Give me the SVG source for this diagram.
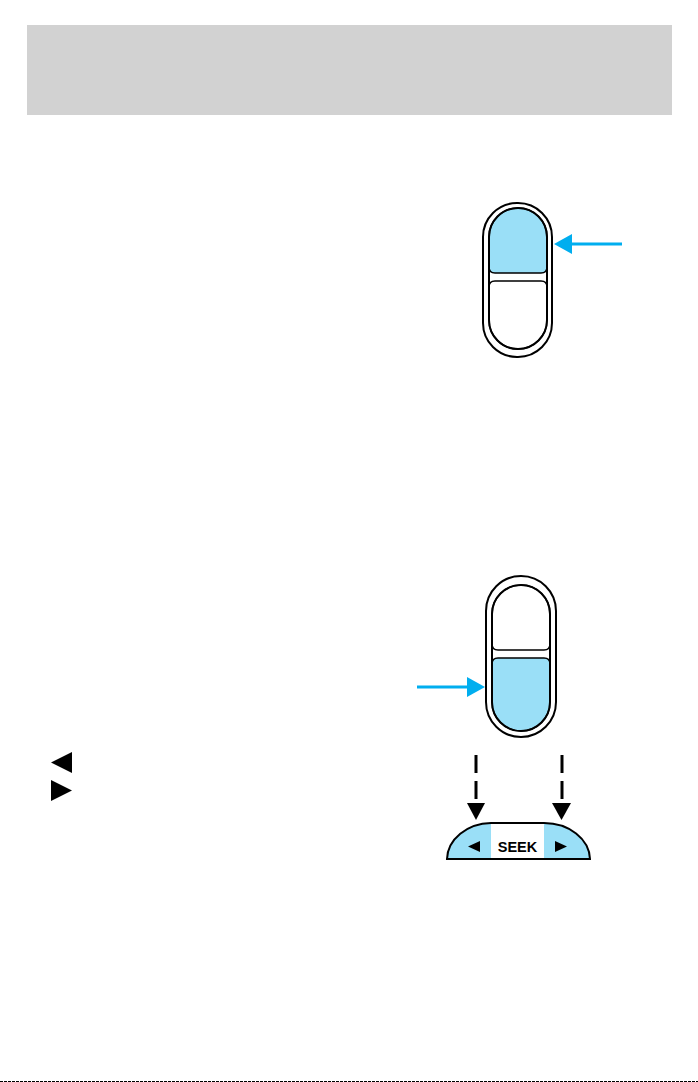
<svg xmlns="http://www.w3.org/2000/svg" width="698" height="1082" viewBox="0 0 698 1082">
<style>
.outer{fill:#fff;stroke:#000;stroke-width:2}
.inner{fill:none;stroke:#000;stroke-width:2}
.on{fill:#9adff7;stroke:#000;stroke-width:1.5}
.off{fill:#fff;stroke:#000;stroke-width:1.5}
.blue{stroke:#00aeef;stroke-width:3;fill:none}
.bluehead{fill:#00aeef}
.dash{stroke:#000;stroke-width:3;stroke-dasharray:18 8;fill:none}
</style>
<rect id="header" x="27" y="25" width="645" height="90" fill="#d2d2d2"/>
<g id="switch-top">
  <rect class="outer" x="483" y="203" width="69" height="154" rx="34" ry="34"/>
  <path class="on" d="M489,267 V237 A29,29 0 0 1 547,237 V267 Q547,273 541,273 H495 Q489,273 489,267 Z"/>
  <path class="off" d="M489,287 Q489,281 495,281 H541 Q547,281 547,287 V320 A29,29 0 0 1 489,320 Z"/>
  <rect class="inner" x="489" y="208" width="58" height="141" rx="29" ry="29"/>
</g>
<g id="switch-bottom">
  <rect class="outer" x="486" y="576" width="70" height="161" rx="35" ry="35"/>
  <path class="off" d="M492,644 V614 A29,29 0 0 1 550,614 V644 Q550,650 544,650 H498 Q492,650 492,644 Z"/>
  <path class="on" d="M492,664 Q492,658 498,658 H544 Q550,658 550,664 V702 A29,29 0 0 1 492,702 Z"/>
  <rect class="inner" x="492" y="585" width="58" height="146" rx="29" ry="29"/>
</g>
<g id="seek">
  <path d="M447,859 A45,37 0 0 1 491,823 H544 A46,37 0 0 1 590,859 Z" fill="#9adff7"/>
  <rect x="491" y="823" width="53" height="36" fill="#fff"/>
  <path d="M447,859 A45,37 0 0 1 491,823 H544 A46,37 0 0 1 590,859 Z" fill="none" stroke="#000" stroke-width="2"/>
  <polygon points="480,841 480,852 468,846.5" fill="#000"/>
  <polygon points="555,841 555,852 567,846.5" fill="#000"/>
  <text x="517.5" y="852" font-family="Liberation Sans, Arial, sans-serif" font-size="14.5" font-weight="bold" text-anchor="middle">SEEK</text>
</g>
<g id="icons">
  <polygon points="72,752 72,773 51,762.5" fill="#000"/>
  <polygon points="51,780 51,801 72,790.5" fill="#000"/>
</g>
<g id="connectors">
  <line class="blue" x1="622" y1="244" x2="568" y2="244"/>
  <polygon class="bluehead" points="554,244 572,234 572,254"/>
  <line class="blue" x1="417" y1="687" x2="470" y2="687"/>
  <polygon class="bluehead" points="485,687 467,677 467,697"/>
  <line class="dash" x1="476" y1="755" x2="476" y2="805"/>
  <polygon points="467,803 485,803 476,820" fill="#000"/>
  <line class="dash" x1="562" y1="755" x2="562" y2="805"/>
  <polygon points="552,803 571,803 561.5,820" fill="#000"/>
</g>
<line x1="0" y1="1081.5" x2="698" y2="1081.5" stroke="#000" stroke-width="1" stroke-dasharray="3 1"/>
</svg>
